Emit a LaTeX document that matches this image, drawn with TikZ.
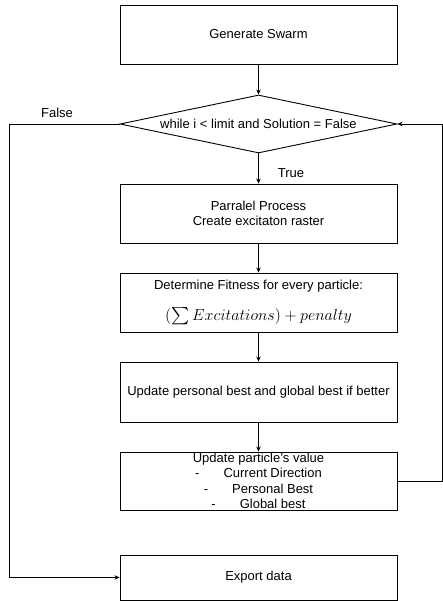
\documentclass[tikz,border=0pt]{standalone}
\usepackage{fix-cm}
\usepackage{amsmath}
\usepackage{fontspec}
\setmainfont{Liberation Sans}
\usetikzlibrary{shapes.geometric,arrows.meta}
\begin{document}
\begin{tikzpicture}[x=1pt,y=-1pt,
  every node/.style={font=\fontsize{13}{15}\selectfont},
  box/.style={draw=black,line width=0.9pt,minimum width=277pt,minimum height=59pt,inner sep=0pt,align=center},
  dec/.style={draw=black,line width=0.9pt,diamond,aspect=4.78,minimum width=277pt,minimum height=58pt,inner sep=0pt},
  arr/.style={draw=black,line width=0.9pt,-{Stealth[length=5pt,width=4.5pt]}},
  lbl/.style={inner sep=0pt}]
\useasboundingbox (0,0) rectangle (443,601);
\node[box] (gen) at (258.5,34.5) {Generate Swarm};
\node[dec] (dec) at (258.5,124) {while i < limit and Solution = False};
\node[box] (par) at (258.5,213.5) {Parralel Process\\Create excitaton raster};
\node[box] (det) at (258.5,302.5) {Determine Fitness for every particle:\\[14pt]{\fontsize{16}{18}\selectfont$(\sum Excitations) + penalty$}};
\node[box,minimum height=60pt] (upd) at (258.5,392) {Update personal best and global best if better};
\node[box,minimum height=58pt,font=\fontsize{13}{15.5}\selectfont] (val) at (258.5,481) {Update particle's value\\-\hspace{24pt}Current Direction\\-\hspace{24pt}Personal Best\\-\hspace{24pt}Global best};
\node[box,minimum height=45pt] (exp) at (258.5,577.5) {Export data};
\node[lbl] (false) at (57,113) {False};
\node[lbl] (true) at (291,173) {True};
\draw[arr] (gen) -- (dec);
\draw[arr] (dec) -- (par);
\draw[arr] (par) -- (det);
\draw[arr] (det) -- (upd);
\draw[arr] (upd) -- (val);
\draw[arr] (val.east) -- ++(45,0) |- (dec.east);
\draw[arr] (dec.west) -- ++(-110,0) |- (exp.west);
\end{tikzpicture}
\end{document}
